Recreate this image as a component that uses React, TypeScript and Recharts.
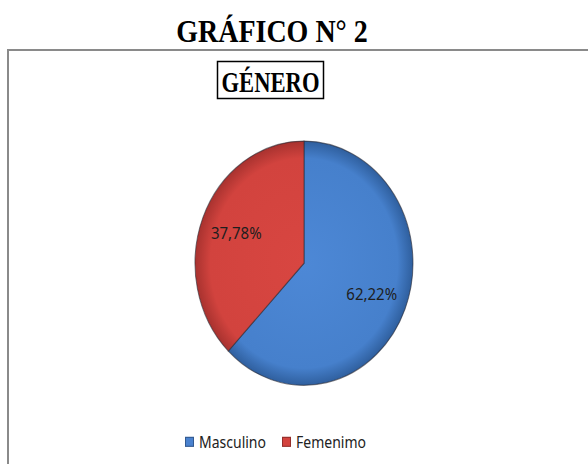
import React from 'react';
import { PieChart, Pie, Cell, Legend } from 'recharts';

const categories = ['Masculino', 'Femenimo'];
const percentages = [62.22, 37.78];
const sliceColors = ['#4a82cf', '#d4433e'];
const gradientIds = ['gradMasc', 'gradFem'];

const data = categories.map((name, i) => ({ name, value: percentages[i] }));

const RADIAN = Math.PI / 180;
// the original picture is stretched vertically
const STRETCH = 1.12;

const renderLabel = ({ cx, cy, midAngle, outerRadius, value }: any) => {
  const r = outerRadius * 0.67;
  const x = cx + r * Math.cos(-midAngle * RADIAN);
  const y = cy + r * Math.sin(-midAngle * RADIAN);
  return (
    <text
      x={x}
      y={y}
      textAnchor="middle"
      dominantBaseline="central"
      fill="#1e1e1e"
      fontSize={15}
      fontFamily="'Noto Sans', sans-serif"
    >
      {value.toFixed(2).replace('.', ',')}%
    </text>
  );
};

// legend follows the category order, not recharts' sorted payload
const LegendContent = () => (
  <div
    style={{
      display: 'flex',
      alignItems: 'center',
      fontFamily: "'Noto Sans', sans-serif",
      fontSize: 14,
      color: '#222',
      whiteSpace: 'nowrap'
    }}
  >
    {categories.map((name, i) => (
      <span key={name} style={{ display: 'flex', alignItems: 'center', marginRight: 16 }}>
        <span
          style={{
            width: 7,
            height: 7,
            background: sliceColors[i],
            border: '0.5px solid rgba(0,0,0,0.3)',
            marginRight: 5,
            display: 'inline-block'
          }}
        />
        {name}
      </span>
    ))}
  </div>
);

const App: React.FC = () => {
  return (
    <div style={{ position: 'relative', width: 588, height: 464, overflow: 'hidden', background: '#fff' }}>
      <style>{'body{margin:0}'}</style>
      <svg width={588} height={464} style={{ position: 'absolute', left: 0, top: 0 }}>
        <text
          transform="translate(272,42) scale(1,1.14)"
          textAnchor="middle"
          fontFamily="'Liberation Serif', serif"
          fontWeight="bold"
          fontSize={28}
          fill="#000"
        >
          GRÁFICO N° 2
        </text>
        <line x1={8} y1={50} x2={588} y2={50} stroke="#8a8a8a" strokeWidth={2} />
        <line x1={8} y1={49} x2={8} y2={464} stroke="#8a8a8a" strokeWidth={2} />
        <rect x={217.5} y={61.5} width={106} height={37} fill="none" stroke="#000" strokeWidth={1.5} />
        <text
          transform="translate(270.5,92) scale(1,1.3)"
          textAnchor="middle"
          fontFamily="'Liberation Serif', serif"
          fontWeight="bold"
          fontSize={22.6}
          fill="#000"
        >
          GÉNERO
        </text>
      </svg>
      <div
        style={{
          position: 'absolute',
          left: 0,
          top: 0,
          transform: `scaleY(${STRETCH})`,
          transformOrigin: '0 0'
        }}
      >
        <PieChart width={588} height={414} margin={{ top: 0, right: 0, bottom: 0, left: 0 }}>
          <defs>
            <radialGradient id="gradMasc" cx={304} cy={235} r={109} gradientUnits="userSpaceOnUse">
              <stop offset="0%" stopColor="#4d88d6" />
              <stop offset="86%" stopColor="#4680cc" />
              <stop offset="100%" stopColor="#2f5f9e" />
            </radialGradient>
            <radialGradient id="gradFem" cx={304} cy={235} r={109} gradientUnits="userSpaceOnUse">
              <stop offset="0%" stopColor="#d84641" />
              <stop offset="86%" stopColor="#d2433e" />
              <stop offset="100%" stopColor="#a8322f" />
            </radialGradient>
          </defs>
          <Pie
            data={data}
            dataKey="value"
            nameKey="name"
            cx={304}
            cy={235}
            outerRadius={109}
            startAngle={90}
            endAngle={-270}
            stroke="rgba(40,40,50,0.6)"
            strokeWidth={1}
            label={renderLabel}
            labelLine={false}
            isAnimationActive={false}
          >
            {data.map((entry, i) => (
              <Cell key={entry.name} fill={`url(#${gradientIds[i]})`} />
            ))}
          </Pie>
          <Legend
            content={<LegendContent />}
            wrapperStyle={{ left: 185, top: 385, width: 240 }}
          />
        </PieChart>
      </div>
    </div>
  );
};

export default App;
